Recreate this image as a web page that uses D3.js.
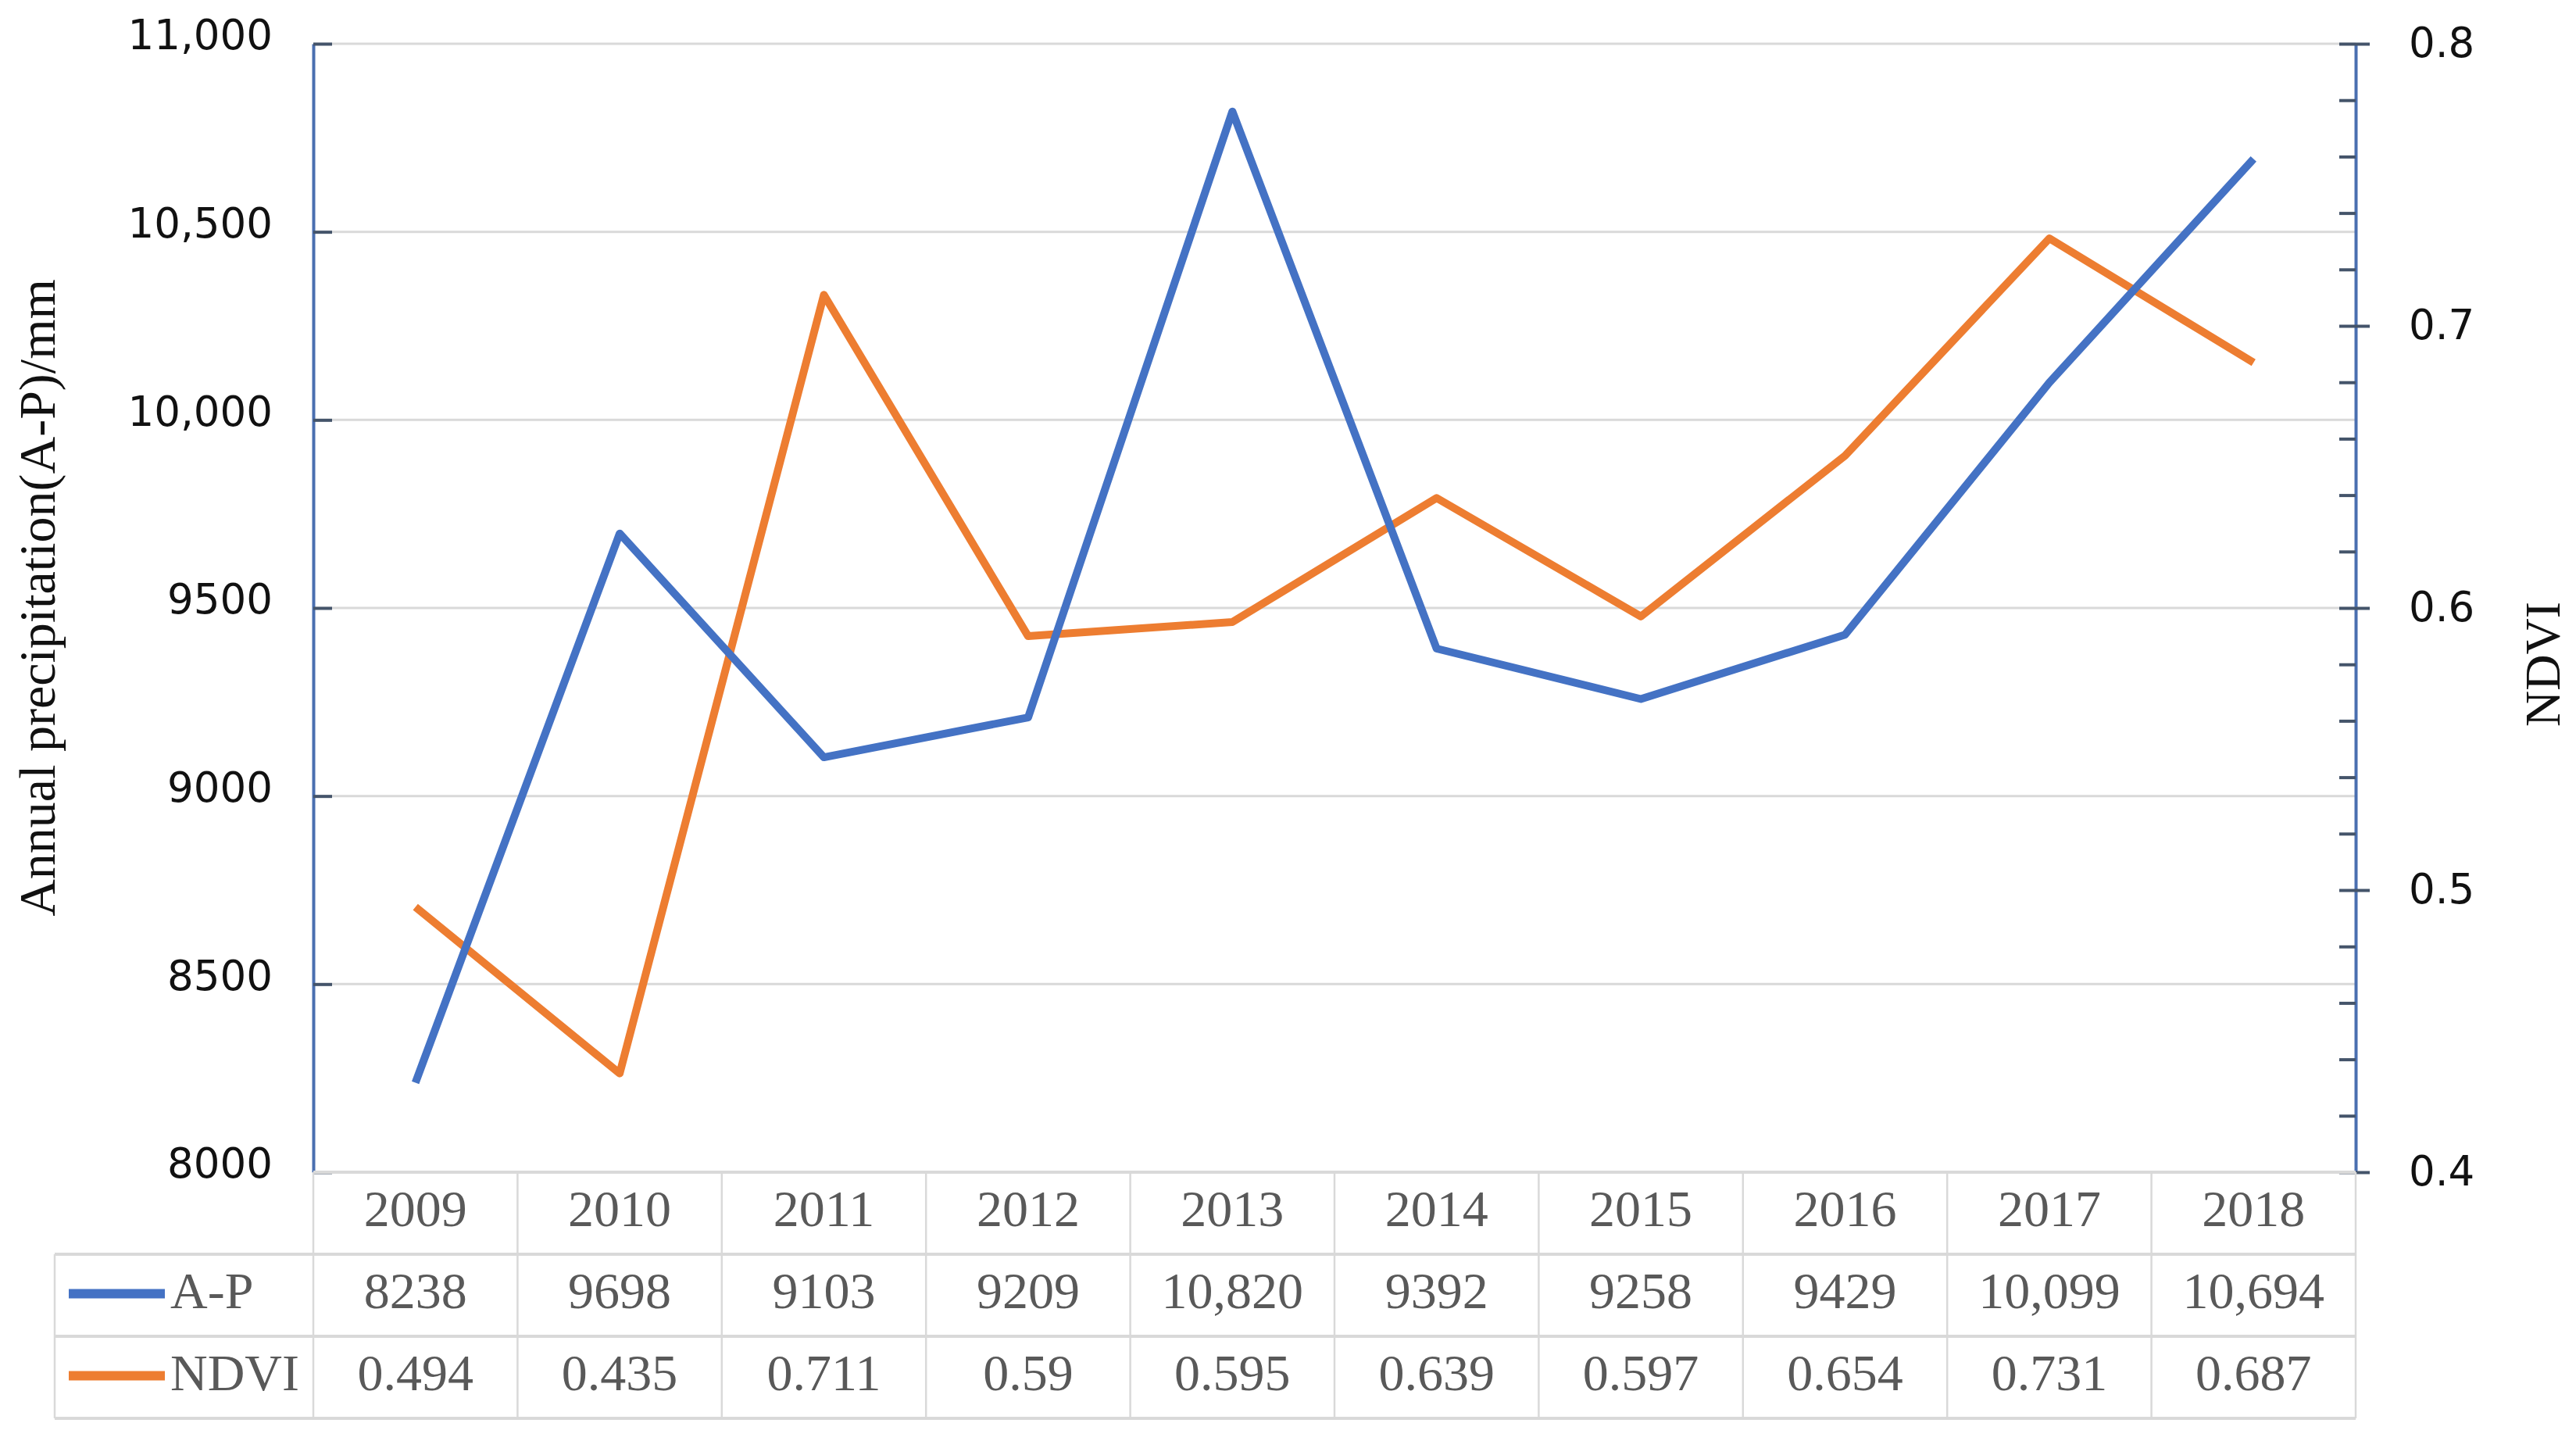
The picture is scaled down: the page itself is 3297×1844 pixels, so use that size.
<!DOCTYPE html>
<html>
<head>
<meta charset="utf-8">
<script src="https://cdn.jsdelivr.net/npm/d3@7"></script>
<style>
  body { margin: 0; background: #fff; }
  svg { display: block; }
</style>
</head>
<body>
<div id="chart"></div>
<script>
'use strict';

// chart data
const years = ['2009', '2010', '2011', '2012', '2013', '2014', '2015', '2016', '2017', '2018'];
const apValues = [8238, 9698, 9103, 9209, 10820, 9392, 9258, 9429, 10099, 10694];
const ndviValues = [0.494, 0.435, 0.711, 0.59, 0.595, 0.639, 0.597, 0.654, 0.731, 0.687];
const leftTicks = [8000, 8500, 9000, 9500, 10000, 10500, 11000];
const rightTicks = [0.4, 0.5, 0.6, 0.7, 0.8];
const rightMinorTicks = d3.range(0.4, 0.8001, 0.02);
const seriesNames = ['A-P', 'NDVI'];

const W = 3297, H = 1844;
const plot = { left: 401, right: 3015, top: 56, bottom: 1500 };
const rowH = 105;
const legendLeft = 70;
const colors = { ap: '#4472C4', ndvi: '#ED7D31', axis: '#4A6FB0', tick: '#44546A', grid: '#D9D9D9' };

const fmtNum = (v) => v >= 10000 ? d3.format(',')(v) : d3.format('')(v);

const svg = d3.select('#chart').append('svg')
  .attr('width', W)
  .attr('height', H);

const x = d3.scaleBand()
  .domain(years)
  .range([plot.left, plot.right])
  .padding(0);
const yLeft = d3.scaleLinear()
  .domain([8000, 11000])
  .range([plot.bottom, plot.top]);
const yRight = d3.scaleLinear()
  .domain([0.4, 0.8])
  .range([plot.bottom, plot.top]);
const cx = (yr) => x(yr) + x.bandwidth() / 2;

// gridlines
svg.append('g')
  .selectAll('line')
  .data(leftTicks.slice(1))
  .enter().append('line')
    .attr('x1', plot.left)
    .attr('x2', plot.right)
    .attr('y1', (d) => yLeft(d))
    .attr('y2', (d) => yLeft(d))
    .attr('stroke', colors.grid)
    .attr('stroke-width', 3);

// left axis
const leftAxis = svg.append('g')
  .attr('transform', `translate(${plot.left},0)`)
  .call(d3.axisLeft(yLeft).tickValues(leftTicks).tickFormat(fmtNum)
    .tickSizeInner(-24).tickSizeOuter(0).tickPadding(52));
leftAxis.select('.domain').attr('stroke', colors.axis).attr('stroke-width', 4);
leftAxis.selectAll('.tick line').attr('stroke', colors.tick).attr('stroke-width', 4);
leftAxis.selectAll('.tick text')
  .attr('font-family', '"DejaVu Sans", Verdana, sans-serif')
  .attr('font-size', 53)
  .attr('fill', '#111')
  .attr('y', -10);

// right axis: minor ticks inside, major ticks crossing
const rightMinor = svg.append('g')
  .attr('transform', `translate(${plot.right},0)`)
  .call(d3.axisRight(yRight).tickValues(rightMinorTicks).tickFormat('')
    .tickSizeInner(-21).tickSizeOuter(0));
rightMinor.select('.domain').attr('stroke', colors.axis).attr('stroke-width', 4);
rightMinor.selectAll('.tick line').attr('stroke', colors.tick).attr('stroke-width', 4);

const rightAxis = svg.append('g')
  .attr('transform', `translate(${plot.right},0)`)
  .call(d3.axisRight(yRight).tickValues(rightTicks).tickFormat(d3.format('.1f'))
    .tickSizeInner(18).tickSizeOuter(0).tickPadding(50));
rightAxis.select('.domain').remove();
rightAxis.selectAll('.tick line').attr('stroke', colors.tick).attr('stroke-width', 4);
rightAxis.selectAll('.tick text')
  .attr('font-family', '"DejaVu Sans", Verdana, sans-serif')
  .attr('font-size', 53)
  .attr('fill', '#111');

// axis titles
svg.append('text')
  .attr('transform', `translate(70,765) rotate(-90)`)
  .attr('text-anchor', 'middle')
  .attr('font-family', '"Liberation Serif", "Times New Roman", serif')
  .attr('font-size', 66)
  .attr('fill', '#111')
  .text('Annual precipitation(A-P)/mm');

svg.append('text')
  .attr('transform', `translate(3276,850) rotate(-90)`)
  .attr('text-anchor', 'middle')
  .attr('font-family', '"Liberation Serif", "Times New Roman", serif')
  .attr('font-size', 64)
  .attr('fill', '#111')
  .text('NDVI');

// lines
const apLine = d3.line()
  .x((d, i) => cx(years[i]))
  .y((d) => yLeft(d));
const ndviLine = d3.line()
  .x((d, i) => cx(years[i]))
  .y((d) => yRight(d));

svg.append('path')
  .datum(ndviValues)
  .attr('d', ndviLine)
  .attr('fill', 'none')
  .attr('stroke', colors.ndvi)
  .attr('stroke-width', 10)
  .attr('stroke-linejoin', 'round');

svg.append('path')
  .datum(apValues)
  .attr('d', apLine)
  .attr('fill', 'none')
  .attr('stroke', colors.ap)
  .attr('stroke-width', 10)
  .attr('stroke-linejoin', 'round');

// data table under the plot
const table = svg.append('g');
const rowTops = [plot.bottom, plot.bottom + rowH, plot.bottom + 2 * rowH, plot.bottom + 3 * rowH];
const border = { stroke: colors.grid, width: 4 };

table.append('line')
  .attr('x1', plot.left).attr('x2', plot.right)
  .attr('y1', rowTops[0]).attr('y2', rowTops[0])
  .attr('stroke', border.stroke).attr('stroke-width', border.width);
table.selectAll('.hrow')
  .data(rowTops.slice(1))
  .enter().append('line')
    .attr('class', 'hrow')
    .attr('x1', legendLeft).attr('x2', plot.right)
    .attr('y1', (d) => d).attr('y2', (d) => d)
    .attr('stroke', border.stroke).attr('stroke-width', border.width);
table.selectAll('.vcol')
  .data(years.concat(['end']))
  .enter().append('line')
    .attr('class', 'vcol')
    .attr('x1', (d) => d === 'end' ? plot.right : x(d))
    .attr('x2', (d) => d === 'end' ? plot.right : x(d))
    .attr('y1', rowTops[0]).attr('y2', rowTops[3])
    .attr('stroke', border.stroke).attr('stroke-width', 2.5);
table.append('line')
  .attr('x1', legendLeft).attr('x2', legendLeft)
  .attr('y1', rowTops[1]).attr('y2', rowTops[3])
  .attr('stroke', border.stroke).attr('stroke-width', 2.5);

const cellFont = (sel) => sel
  .attr('font-family', '"Liberation Serif", "Times New Roman", serif')
  .attr('font-size', 66)
  .attr('fill', '#595959')
  .attr('dominant-baseline', 'central');

const rows = [
  { values: years, fmt: (v) => v },
  { values: apValues, fmt: fmtNum },
  { values: ndviValues, fmt: (v) => String(v) }
];
rows.forEach((row, r) => {
  table.append('g')
    .selectAll('text')
    .data(row.values)
    .enter().append('text')
      .attr('x', (d, i) => cx(years[i]))
      .attr('y', rowTops[r] + rowH / 2 - 6)
      .attr('text-anchor', 'middle')
      .call(cellFont)
      .text((d) => row.fmt(d));
});

// legend keys inside the table
const legendColors = [colors.ap, colors.ndvi];
seriesNames.forEach((name, i) => {
  const cy = rowTops[i + 1] + rowH / 2;
  table.append('line')
    .attr('x1', 88).attr('x2', 211)
    .attr('y1', cy - 2).attr('y2', cy - 2)
    .attr('stroke', legendColors[i])
    .attr('stroke-width', 12);
  table.append('text')
    .attr('x', 218)
    .attr('y', cy - 6)
    .call(cellFont)
    .text(name);
});
</script>
</body>
</html>
